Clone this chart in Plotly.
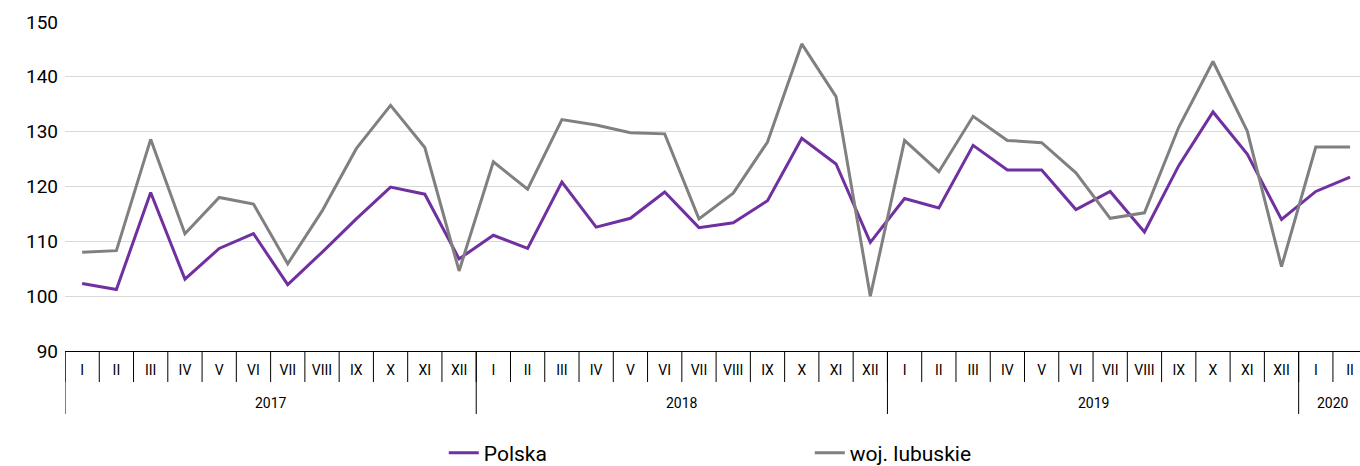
import plotly.graph_objects as go

years = ["2017"] * 12 + ["2018"] * 12 + ["2019"] * 12 + ["2020"] * 2
month_names = ["I", "II", "III", "IV", "V", "VI", "VII", "VIII", "IX", "X", "XI", "XII"]
months = month_names * 3 + ["I", "II"]

polska = [102.3, 101.2, 118.9, 103.1, 108.7, 111.4, 102.1, 108.0, 114.1, 119.9, 118.6, 106.8,
          111.1, 108.7, 120.8, 112.6, 114.2, 119.0, 112.5, 113.4, 117.4, 128.8, 124.1, 109.8,
          117.8, 116.1, 127.5, 123.0, 123.0, 115.8, 119.1, 111.7, 123.8, 133.6, 125.9, 114.0,
          119.1, 121.7]
lubuskie = [108.0, 108.3, 128.6, 111.4, 118.0, 116.8, 105.9, 115.5, 126.9, 134.8, 127.1, 104.6,
            124.5, 119.5, 132.2, 131.2, 129.8, 129.6, 114.1, 118.8, 128.1, 146.0, 136.4, 100.0,
            128.4, 122.7, 132.8, 128.4, 128.0, 122.5, 114.2, 115.2, 130.8, 142.8, 130.1, 105.4,
            127.2, 127.2]

idx = list(range(len(months)))
PLOT_H = 466 - 22 - 115

fig = go.Figure()
fig.add_trace(go.Scatter(x=idx, y=polska, mode="lines", name="Polska",
                         line=dict(color="#7030A0", width=3)))
fig.add_trace(go.Scatter(x=idx, y=lubuskie, mode="lines", name="woj. lubuskie",
                         line=dict(color="#808080", width=3)))

# month separators
for k in range(len(months)):
    fig.add_shape(type="line", xref="x", yref="paper", x0=k - 0.5, x1=k - 0.5,
                  y0=0, y1=-31 / PLOT_H, line=dict(color="#000000", width=1))

# year groups: dividers and labels
groups = []
for i, yv in enumerate(years):
    if not groups or groups[-1][0] != yv:
        groups.append([yv, i, i])
    else:
        groups[-1][2] = i
for yv, a, b in groups:
    fig.add_shape(type="line", xref="x", yref="paper", x0=a - 0.5, x1=a - 0.5,
                  y0=0, y1=-63 / PLOT_H, line=dict(color="#000000", width=1))
    fig.add_annotation(x=(a + b) / 2, y=-(403 - 351) / PLOT_H, xref="x", yref="paper",
                       text=yv, showarrow=False, font=dict(size=14),
                       xanchor="center", yanchor="middle")

fig.update_layout(
    width=1360, height=466,
    margin=dict(l=65, r=0, t=22, b=115),
    paper_bgcolor="white", plot_bgcolor="white",
    font=dict(family="Roboto", color="#000000"),
    showlegend=True,
    legend=dict(orientation="h", x=0.2925, xanchor="left", yref="container",
                y=(466 - 453) / 466, yanchor="middle",
                font=dict(size=21), entrywidth=321, entrywidthmode="pixels"),
    xaxis=dict(range=[-0.5, 37.29], automargin=False,
               showline=True, linecolor="#000000", linewidth=1,
               tickmode="array", tickvals=idx, ticktext=months, ticks="",
               ticklabelstandoff=6,
               tickfont=dict(size=14), showgrid=False, zeroline=False),
    yaxis=dict(range=[90, 150], dtick=10, tick0=90, showgrid=True, gridcolor="#d9d9d9",
               automargin=False,
               gridwidth=1, zeroline=False, showline=False, tickfont=dict(size=19),
               ticks="", ticklabelstandoff=6),
)

fig.write_html("out.html", config={"displayModeBar": False},
               post_script="document.body.style.margin='0';")
